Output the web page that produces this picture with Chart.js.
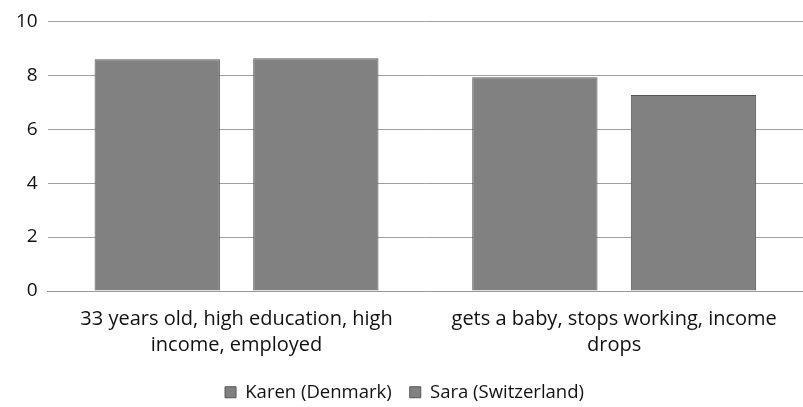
<!DOCTYPE html>
<html>
<head>
<meta charset="utf-8">
<script src="https://cdn.jsdelivr.net/npm/chart.js@4"></script>
<style>
  html, body { margin: 0; padding: 0; background: #fff; }
  #wrap { width: 803px; height: 407px; }
</style>
</head>
<body>
<div id="wrap"><canvas id="chart"></canvas></div>
<script>
// categories and values
const categories = [
    ["33 years old, high education, high", "income, employed"],
    ["gets a baby, stops working, income", "drops"]
];
const karenValues = [8.6, 7.93];
const saraValues = [8.63, 7.27];
const seriesNames = ["Karen (Denmark)", "Sara (Switzerland)"];

const ctx = document.getElementById("chart").getContext("2d");
new Chart(ctx, {
    type: 'bar',
    data: {
        labels: categories,
        datasets: [{
            label: seriesNames[0],
            data: karenValues,
            backgroundColor: '#818181',
            borderColor: '#555555',
            borderWidth: 1
        }, {
            label: seriesNames[1],
            data: saraValues,
            backgroundColor: '#818181',
            borderColor: '#555555',
            borderWidth: 1
        }]
    },
    options: {
        responsive: true,
        maintainAspectRatio: false,
        animation: false,
        layout: { padding: { left: 6, right: 0, top: 6, bottom: 0 } },
        datasets: {
            bar: { categoryPercentage: 0.84, barPercentage: 0.79 }
        },
        plugins: {
            legend: {
                position: 'bottom',
                maxHeight: 42,
                labels: {
                    font: { family: 'Open Sans', size: 18.5 },
                    color: '#111',
                    boxWidth: 11,
                    boxHeight: 11,
                    padding: 18
                }
            },
            tooltip: { enabled: false }
        },
        scales: {
            x: {
                grid: { display: false },
                border: { color: '#999', width: 1 },
                ticks: {
                    font: { family: 'Open Sans', size: 20, lineHeight: 1.3 },
                    color: '#111',
                    maxRotation: 0,
                    padding: 7
                }
            },
            y: {
                min: 0,
                max: 10,
                ticks: {
                    stepSize: 2,
                    font: { family: 'Open Sans', size: 19 },
                    color: '#111',
                    padding: 10
                },
                grid: { color: '#a0a0a0', drawTicks: false },
                border: { display: false }
            }
        }
    }
});
</script>
</body>
</html>
